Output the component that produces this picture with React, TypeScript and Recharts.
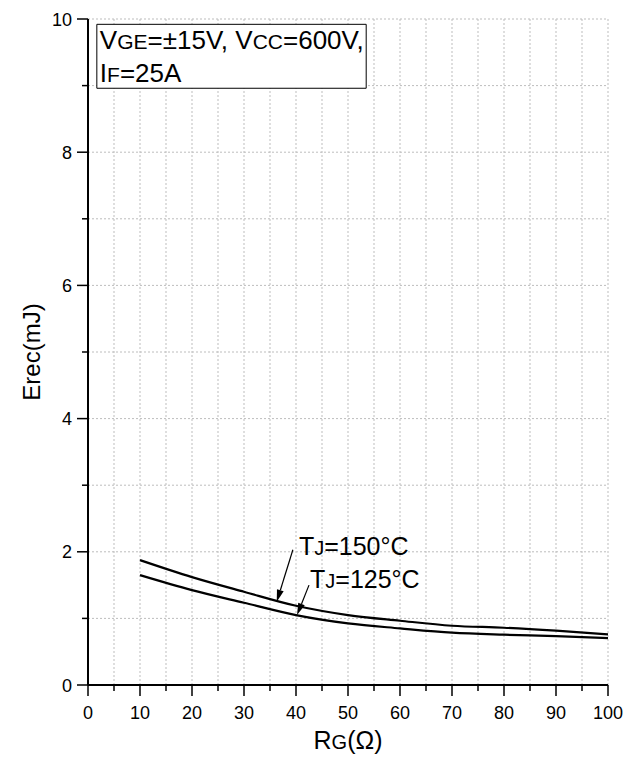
import React from "react";
import {
  LineChart,
  Line,
  XAxis,
  YAxis,
  CartesianGrid,
  ReferenceArea,
  ReferenceLine,
} from "recharts";

// gate resistance (ohm)
const rg = [10, 20, 30, 40, 50, 60, 70, 80, 90, 100];
// reverse recovery energy (mJ)
const erec150 = [1.875, 1.62, 1.4, 1.19, 1.05, 0.965, 0.89, 0.86, 0.815, 0.76];
const erec125 = [1.65, 1.425, 1.235, 1.05, 0.925, 0.85, 0.785, 0.755, 0.735, 0.705];

const xTicks = [0, 5, 10, 15, 20, 25, 30, 35, 40, 45, 50, 55, 60, 65, 70, 75, 80, 85, 90, 95, 100];
const yTicks = [0, 1, 2, 3, 4, 5, 6, 7, 8, 9, 10];

const chartData = rg.map((r, i) => ({ rg: r, t150: erec150[i], t125: erec125[i] }));

const FONT = "'Liberation Sans', Arial, sans-serif";

const XTick = (props: any) => {
  const { x, y, payload } = props;
  const v = payload.value;
  const major = v % 10 === 0;
  return (
    <g>
      <line x1={x} x2={x} y1={y} y2={y + (major ? 11 : 6)} stroke="#000" strokeWidth={1.5} />
      {major && (
        <text x={x} y={y + 34} textAnchor="middle" fontSize={18} fontFamily={FONT} fill="#000">
          {v}
        </text>
      )}
    </g>
  );
};

const YTick = (props: any) => {
  const { x, y, payload } = props;
  const v = payload.value;
  const major = v % 2 === 0;
  return (
    <g>
      <line x1={x - (major ? 11 : 6)} x2={x} y1={y} y2={y} stroke="#000" strokeWidth={1.5} />
      {major && (
        <text x={x - 16} y={y + 6.5} textAnchor="end" fontSize={18} fontFamily={FONT} fill="#000">
          {v}
        </text>
      )}
    </g>
  );
};

const RightTick = (props: any) => {
  const { x, y } = props;
  return <line x1={x - 3} x2={x} y1={y} y2={y} stroke="#000" strokeWidth={1.5} />;
};

const TopTick = (props: any) => {
  const { x, y } = props;
  return <line x1={x} x2={x} y1={y} y2={y + 3} stroke="#000" strokeWidth={1.5} />;
};

const arrowShape = (dx: number, dy: number, big: string, sub: string, rest: string) => (p: any) => {
  const { x1, y1, x2, y2 } = p;
  const ang = Math.atan2(y2 - y1, x2 - x1);
  const len = 12;
  const w = 3.5;
  const bx = x2 - len * Math.cos(ang);
  const by = y2 - len * Math.sin(ang);
  const nx = -Math.sin(ang) * w;
  const ny = Math.cos(ang) * w;
  return (
    <g>
      <line x1={x1} y1={y1} x2={bx} y2={by} stroke="#000" strokeWidth={1.2} />
      <polygon points={`${x2},${y2} ${bx + nx},${by + ny} ${bx - nx},${by - ny}`} fill="#000" />
      <text x={x1 + dx} y={y1 + dy} fontSize={25} fontFamily={FONT} fill="#000">
        <tspan>{big}</tspan>
        <tspan fontSize={20}>{sub}</tspan>
        <tspan>{rest}</tspan>
      </text>
    </g>
  );
};

const BoxLabel = (props: any) => {
  const { x, y } = props.viewBox;
  return (
    <text x={x + 3} y={y + 25} fontSize={26} fontFamily={FONT} fill="#000">
      <tspan>V</tspan>
      <tspan fontSize={21}>GE</tspan>
      <tspan>=±15V, V</tspan>
      <tspan fontSize={21}>CC</tspan>
      <tspan>=600V,</tspan>
      <tspan x={x + 3} dy={33}>I</tspan>
      <tspan fontSize={21}>F</tspan>
      <tspan>=25A</tspan>
    </text>
  );
};

const XLabel = (props: any) => {
  const { x, y, width } = props.viewBox;
  return (
    <text x={x + width / 2} y={y + 64} textAnchor="middle" fontSize={25} fontFamily={FONT} fill="#000">
      <tspan>R</tspan>
      <tspan fontSize={20}>G</tspan>
      <tspan>(Ω)</tspan>
    </text>
  );
};

const YLabel = (props: any) => {
  const { y, height } = props.viewBox;
  const cx = 40;
  const cy = y + height / 2;
  return (
    <text
      x={cx}
      y={cy}
      transform={`rotate(-90, ${cx}, ${cy})`}
      textAnchor="middle"
      fontSize={24}
      fontFamily={FONT}
      fill="#000"
    >
      Erec(mJ)
    </text>
  );
};

export default function App() {
  return (
    <div style={{ width: 636, height: 758, marginTop: -8, marginLeft: -8, background: "#fff" }}>
      <LineChart width={636} height={758} data={chartData} margin={{ top: 19, right: 28, bottom: 0, left: 0 }}>
        <CartesianGrid stroke="#bdbdbd" strokeDasharray="2 2" strokeWidth={1} />
        <XAxis
          dataKey="rg"
          type="number"
          domain={[0, 100]}
          ticks={xTicks}
          interval={0}
          height={73}
          tickSize={0}
          tickMargin={0}
          tick={<XTick />}
          axisLine={{ stroke: "#000", strokeWidth: 2 }}
          label={<XLabel />}
        />
        <XAxis
          xAxisId="top"
          orientation="top"
          type="number"
          domain={[0, 100]}
          ticks={xTicks}
          interval={0}
          height={0}
          tickSize={0}
          tickMargin={0}
          tick={<TopTick />}
          axisLine={{ stroke: "#000", strokeWidth: 2 }}
        />
        <YAxis
          type="number"
          domain={[0, 10]}
          ticks={yTicks}
          interval={0}
          width={88}
          tickSize={0}
          tickMargin={0}
          tick={<YTick />}
          axisLine={{ stroke: "#000", strokeWidth: 2 }}
          label={<YLabel />}
        />
        <YAxis
          yAxisId="right"
          orientation="right"
          type="number"
          domain={[0, 10]}
          ticks={yTicks}
          interval={0}
          width={0}
          tickSize={0}
          tickMargin={0}
          tick={<RightTick />}
          axisLine={{ stroke: "#000", strokeWidth: 2 }}
        />
        <ReferenceArea
          x1={1.7}
          x2={53.5}
          y1={8.96}
          y2={9.92}
          fill="#fff"
          fillOpacity={1}
          stroke="#000"
          strokeWidth={1}
          label={<BoxLabel />}
        />
        <Line type="monotone" dataKey="t150" stroke="#000" strokeWidth={2.2} dot={false} isAnimationActive={false} />
        <Line type="monotone" dataKey="t125" stroke="#000" strokeWidth={2.2} dot={false} isAnimationActive={false} />
        <ReferenceLine
          segment={[
            { x: 39.4, y: 2.03 },
            { x: 36.3, y: 1.25 },
          ]}
          shape={arrowShape(6, 5, "T", "J", "=150°C")}
        />
        <ReferenceLine
          segment={[
            { x: 42.5, y: 1.5 },
            { x: 40.2, y: 1.05 },
          ]}
          shape={arrowShape(1, 3, "T", "J", "=125°C")}
        />
      </LineChart>
    </div>
  );
}
